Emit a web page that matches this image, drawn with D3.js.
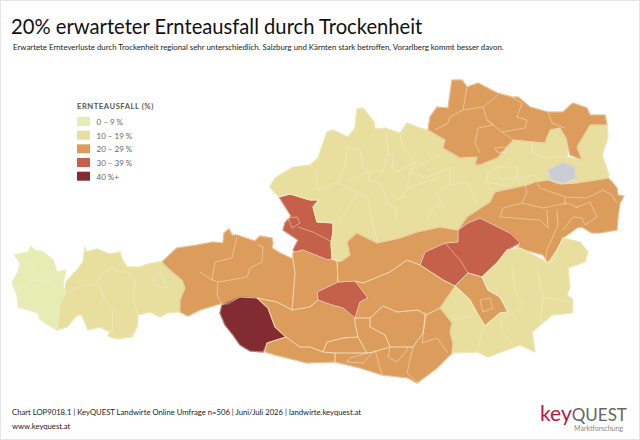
<!DOCTYPE html>
<html lang="de">

<head>
    <meta charset="UTF-8">
    <title>20% erwarteter Ernteausfall durch Trockenheit</title>
    <script src="https://d3js.org/d3.v7.min.js"></script>
    <style>
        html, body { margin: 0; padding: 0; background: #fff; }
        text { font-family: Lato, "Open Sans", sans-serif; }
    </style>
</head>

<body>
    <svg width="640" height="440"></svg>

    <script>
        const legendLabels = ["0 – 9 %", "10 – 19 %", "20 – 29 %", "30 – 39 %", "40 %+"];
        const bandLimits = [10, 20, 30, 40];
        const bandColors = ["#e5ecb4", "#e8df9e", "#dc9c5c", "#c5604a", "#822b30"];
        const noDataColor = "#cbcdd2";
        const borderColor = "#f6efd2";

        // region outlines (map units = pixels of the reference)
        const regionNames = ["Vorarlberg", "Tirol", "Pinzgau", "Lienz", "Spittal", "Gailtal", "Pongau", "Innviertel", "Oberoesterreich",
            "Wien", "Waldviertel", "Industrieviertel", "Ennstal", "Obersteiermark", "Graz", "Oststeiermark", "Murtal", "Nockberge",
            "Lungau", "Klagenfurt", "Villach", "Rosental"];
        const regionValues = [7, 14, 24, 44, 25, 23, 26, 33, 15, null, 25, 26, 24, 34, 26, 16, 25, 24, 33, 25, 24, 23];
        const regionShapes = [
            [[14,255],[28,252],[31,246],[34,250],[43,252],[53,260],[57,272],[66,270],[63,282],[65,294],[60,303],[57,330],[50,326],[40,319],[38,313],[18,307],[17,295],[12,282],[18,272],[20,263]],
            [[66,282],[77,270],[83,262],[85,247],[86,252],[97,249],[110,254],[120,252],[122,259],[127,267],[140,267],[148,264],[158,262],[162,262],[170,270],[182,280],[185,288],[180,300],[180,312],[167,313],[160,317],[150,312],[138,315],[137,327],[132,337],[117,339],[108,336],[110,332],[100,327],[88,330],[86,325],[82,315],[77,315],[67,327],[57,330],[60,303],[65,294]],
            [[162,262],[177,248],[197,245],[213,242],[223,243],[224,233],[229,229],[232,235],[237,235],[255,241],[260,236],[272,238],[273,243],[272,248],[280,253],[293,259],[295,273],[292,310],[277,302],[257,298],[240,297],[228,304],[220,304],[200,310],[188,316],[180,312],[180,300],[185,288],[182,280],[170,270]],
            [[220,313],[222,305],[240,297],[257,298],[268,308],[275,327],[286,337],[267,343],[263,352],[250,351],[240,345],[233,335],[225,325]],
            [[286,337],[275,327],[268,308],[257,298],[277,302],[292,310],[310,307],[318,300],[332,305],[343,308],[355,318],[355,323],[358,337],[343,338],[327,342],[323,352],[310,347],[300,347]],
            [[286,337],[300,347],[310,347],[323,352],[335,353],[335,362],[307,363],[287,358],[275,355],[265,352],[267,343]],
            [[293,253],[295,252],[303,250],[328,260],[332,259],[337,262],[338,282],[317,292],[318,300],[310,307],[292,310],[295,273],[293,259]],
            [[279,197],[290,194],[310,200],[319,200],[313,207],[317,222],[333,223],[333,232],[331,243],[332,259],[328,260],[303,250],[295,252],[293,250],[298,240],[283,230],[285,223],[291,216]],
            [[270,187],[275,178],[293,167],[310,165],[318,158],[327,132],[333,130],[348,137],[355,128],[357,109],[363,108],[374,122],[375,129],[385,128],[400,133],[407,123],[420,128],[428,130],[445,140],[443,148],[460,158],[477,157],[475,165],[480,165],[497,158],[513,140],[545,143],[550,130],[560,128],[566,138],[568,150],[567,157],[582,160],[577,147],[590,125],[607,125],[608,137],[602,155],[609,175],[608,178],[577,183],[560,184],[548,180],[535,182],[527,185],[495,192],[490,202],[467,217],[458,230],[440,227],[417,232],[400,238],[377,243],[357,233],[347,242],[350,255],[342,261],[332,259],[331,243],[333,232],[333,223],[317,222],[313,207],[319,200],[310,200],[290,194],[279,197]],
            [[548,170],[563,162],[575,167],[576,178],[563,184],[550,180]],
            [[428,130],[430,117],[437,107],[448,108],[452,80],[462,80],[467,87],[478,83],[497,93],[512,97],[518,97],[530,107],[548,112],[563,112],[573,103],[587,108],[590,115],[605,115],[607,125],[590,125],[577,147],[582,160],[570,155],[566,138],[560,128],[550,130],[545,143],[513,140],[497,158],[480,165],[475,165],[477,157],[460,158],[443,148],[445,140]],
            [[467,217],[490,202],[495,192],[527,185],[535,182],[548,180],[560,184],[577,183],[608,178],[613,183],[617,188],[618,195],[624,196],[620,203],[618,217],[617,230],[600,233],[592,233],[582,227],[577,228],[563,238],[557,250],[557,258],[548,263],[543,255],[525,250],[518,248],[520,243],[510,233],[500,228],[480,218],[468,223],[458,230]],
            [[337,262],[342,261],[350,255],[347,242],[357,233],[377,243],[400,238],[417,232],[440,227],[458,230],[458,242],[445,243],[425,252],[420,265],[407,260],[390,272],[363,283],[355,281],[338,282]],
            [[420,265],[425,252],[445,243],[458,242],[458,230],[468,223],[480,218],[500,228],[510,233],[520,243],[507,250],[497,263],[482,277],[468,273],[455,286],[443,280]],
            [[455,286],[468,273],[482,277],[488,290],[500,297],[508,312],[500,313],[485,326],[477,313],[470,300]],
            [[482,277],[497,263],[507,250],[520,248],[543,260],[548,263],[557,250],[563,238],[580,242],[588,252],[585,262],[568,268],[570,287],[567,295],[573,300],[572,313],[552,315],[532,332],[535,352],[520,345],[493,355],[488,357],[477,352],[452,353],[453,343],[450,333],[452,323],[440,308],[455,286],[470,300],[477,313],[485,326],[500,313],[508,312],[500,297],[488,290]],
            [[355,281],[363,283],[390,272],[407,260],[420,265],[443,280],[455,286],[440,308],[426,315],[418,310],[397,312],[383,306],[370,318],[355,318],[360,302],[368,298]],
            [[370,318],[383,306],[397,312],[418,310],[426,315],[423,333],[413,347],[390,347],[385,335],[370,327]],
            [[317,292],[338,282],[355,281],[368,298],[360,302],[355,318],[343,308],[332,305],[318,300]],
            [[355,318],[370,318],[370,327],[385,335],[390,347],[373,352],[367,353],[358,337],[355,323]],
            [[335,353],[335,362],[360,368],[382,375],[408,378],[417,383],[437,368],[452,353],[453,343],[450,333],[452,323],[440,308],[426,315],[423,333],[413,347],[390,347],[373,352],[367,353]],
            [[323,352],[327,342],[343,338],[358,337],[367,353],[335,353]]
        ];

        // smaller district borders inside the regions
        const districtBorders = [
            [[22,262],[33,263],[35,280],[20,288],[17,292]], [[35,280],[50,282],[63,290]],
            [[65,294],[83,285],[97,285],[100,275],[112,268],[118,272],[128,272],[135,280],[133,297],[138,315]],
            [[100,285],[103,297],[113,310],[112,333]], [[153,280],[160,273],[167,288],[155,285],[153,280]],
            [[200,272],[212,280],[218,282],[217,295],[222,305]], [[212,280],[215,262],[232,258],[237,237]],
            [[218,282],[247,277],[250,268],[262,262],[263,247],[258,245]],
            [[310,165],[317,172],[317,190],[338,182],[358,193],[338,223]], [[347,147],[345,167],[338,180]],
            [[347,147],[360,150],[363,168],[370,172],[383,171],[388,153],[386,132]],
            [[370,172],[368,180],[378,183],[383,187],[387,203],[395,208],[397,220]], [[350,180],[368,172]],
            [[358,193],[368,198],[372,223],[378,242]], [[400,133],[402,145],[415,162],[410,170],[440,155]],
            [[388,153],[393,155],[392,168],[398,172],[415,162]], [[410,170],[407,188],[403,197],[397,200],[387,187]],
            [[407,188],[440,177]], [[428,220],[430,210],[440,205]], [[408,172],[420,175],[425,178],[445,170],[450,167]],
            [[450,167],[450,185],[437,193],[443,207]], [[450,185],[467,182],[472,193],[477,203]],
            [[487,173],[498,167],[517,167],[518,177],[500,180],[497,175]], [[488,173],[487,182],[510,187],[515,180],[533,175],[540,180]],
            [[533,142],[532,152],[543,158],[558,156],[567,157]],
            [[467,87],[463,110],[450,117],[448,123],[435,130]],
            [[463,110],[483,107],[487,120],[502,132],[525,128],[527,120],[517,117],[522,103],[512,97]],
            [[483,107],[498,95]], [[487,120],[493,125],[478,128],[475,143],[480,153]], [[502,132],[513,140]],
            [[495,148],[507,147],[505,153],[497,152],[495,148]], [[548,112],[552,123],[565,128]],
            [[500,217],[503,208],[522,203],[527,192],[525,185]], [[522,203],[543,208],[567,203],[577,207]],
            [[537,183],[540,188],[565,197],[565,205]], [[565,197],[587,198],[603,190],[612,195],[617,203]],
            [[500,217],[540,220],[548,228],[547,210]], [[557,210],[558,225],[547,250],[545,262]],
            [[575,208],[590,202],[597,217],[585,225],[582,218],[573,217]], [[573,217],[563,230]],
            [[445,243],[460,260],[468,273]], [[288,218],[297,217],[300,223],[292,228],[288,218]], [[298,227],[313,232],[332,242]],
            [[512,265],[515,290],[523,307]], [[537,267],[543,297],[570,302]], [[543,297],[540,327],[532,332]],
            [[523,307],[500,320],[503,333],[513,345]], [[483,328],[477,352]], [[453,320],[473,315]],
            [[480,300],[490,298],[493,308],[483,312],[480,300]],
            [[367,353],[350,358],[347,362],[363,363],[373,352]], [[375,350],[382,375]],
            [[390,347],[388,357],[397,362],[405,353],[408,347]], [[413,347],[407,373],[417,382]],
            [[425,312],[423,337],[422,343],[437,338],[448,353]]
        ];

        const svg = d3.select("svg");
        const color = d3.scaleThreshold().domain(bandLimits).range(bandColors);
        const path = d3.geoPath(d3.geoIdentity());
        const fillOf = d => d.properties.value === null ? noDataColor : color(d.properties.value);

        svg.append("rect").attr("x", 0.5).attr("y", 0.5).attr("width", 639).attr("height", 439)
            .attr("fill", "#fff").attr("stroke", "#e6e6e6");

        svg.append("text").attr("x", 11).attr("y", 34).attr("font-size", 20.2).attr("fill", "#111")
            .text("20% erwarteter Ernteausfall durch Trockenheit");
        svg.append("text").attr("x", 13).attr("y", 50).attr("font-size", 7.85).attr("fill", "#222")
            .text("Erwartete Ernteverluste durch Trockenheit regional sehr unterschiedlich. Salzburg und Kärnten stark betroffen, Vorarlberg kommt besser davon.");

        // geoPath drops the last point of a ring, so close every ring first
        const regions = regionShapes.map((shape, i) => ({
            type: "Feature",
            properties: { name: regionNames[i], value: regionValues[i] },
            geometry: { type: "Polygon", coordinates: [shape.concat([shape[0]])] }
        }));

        const map = svg.append("g");
        map.selectAll("path.region")
            .data(regions)
            .enter().append("path")
            .attr("class", "region")
            .attr("d", path)
            .attr("fill", fillOf)
            .attr("stroke", fillOf)
            .attr("stroke-width", 1.2)
            .attr("stroke-linejoin", "round");

        map.selectAll("path.edge")
            .data(regions)
            .enter().append("path")
            .attr("class", "edge")
            .attr("d", path)
            .attr("fill", "none")
            .attr("stroke", borderColor).attr("stroke-width", 0.6).attr("stroke-opacity", 0.8);

        map.append("path")
            .attr("d", path({ type: "MultiLineString", coordinates: districtBorders }))
            .attr("fill", "none").attr("stroke", borderColor).attr("stroke-width", 0.6).attr("stroke-opacity", 0.8);

        const legend = svg.append("g");
        const legendY = d3.scaleBand().domain(legendLabels).range([117, 184]).paddingInner(0.1);
        legend.append("text").attr("x", 77).attr("y", 109).attr("font-size", 7.6).attr("font-weight", 700)
            .attr("letter-spacing", 0.55).attr("fill", "#555").text("ERNTEAUSFALL (%)");
        legend.selectAll("rect").data(legendLabels).enter().append("rect")
            .attr("x", 77).attr("y", d => legendY(d)).attr("width", 13).attr("height", 9)
            .attr("fill", (d, i) => bandColors[i]);
        legend.selectAll("text.label").data(legendLabels).enter().append("text")
            .attr("class", "label").attr("x", 96.5).attr("y", d => legendY(d) + 8)
            .attr("font-size", 8).attr("fill", "#666").text(d => d);

        svg.append("text").attr("x", 12).attr("y", 415).attr("font-size", 7.7).attr("fill", "#222")
            .text("Chart LOP9018.1 | KeyQUEST Landwirte Online Umfrage n=506 | Juni/Juli 2026 | landwirte.keyquest.at");
        svg.append("text").attr("x", 12).attr("y", 429).attr("font-size", 7.7).attr("fill", "#222")
            .text("www.keyquest.at");

        const logo = svg.append("text").attr("x", 540).attr("y", 421);
        logo.append("tspan").attr("font-size", 21).attr("fill", "#b5173f").text("key");
        logo.append("tspan").attr("font-size", 17).attr("fill", "#666").text("QUEST");
        svg.append("text").attr("x", 623).attr("y", 431).attr("text-anchor", "end")
            .attr("font-size", 7).attr("fill", "#888").text("Marktforschung");
    </script>
</body>

</html>
